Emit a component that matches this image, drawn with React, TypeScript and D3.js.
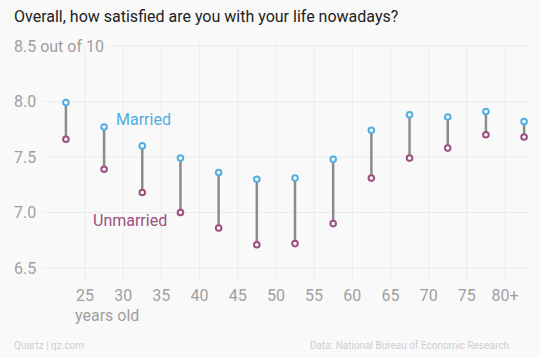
import React from "react";
import * as d3 from "d3";

const ages = [22.5, 27.5, 32.5, 37.5, 42.5, 47.5, 52.5, 57.5, 62.5, 67.5, 72.5, 77.5, 82.5];
const married = [7.99, 7.77, 7.6, 7.49, 7.36, 7.3, 7.31, 7.48, 7.74, 7.88, 7.86, 7.91, 7.82];
const unmarried = [7.66, 7.39, 7.18, 7.0, 6.86, 6.71, 6.72, 6.9, 7.31, 7.49, 7.58, 7.7, 7.68];
const xTicks = [25, 30, 35, 40, 45, 50, 55, 60, 65, 70, 75, 80];
const yTicks = [6.5, 7.0, 7.5, 8.0, 8.5];

const W = 540, H = 358;
const BLUE = "#51aee0";
const PURPLE = "#9c4f80";
const FONT = "Roboto, 'Open Sans', sans-serif";

export default function App() {
  const x = d3.scaleLinear().domain([25, 80]).range([85, 505]);
  const y = d3.scaleLinear().domain([6.5, 8.5]).range([268, 46]);
  const data = ages.map((a, i) => ({ a, m: married[i], u: unmarried[i] }));
  return (
    <svg width={W} height={H} style={{ position: "absolute", left: 0, top: 0, display: "block" }} fontFamily={FONT}>
      <rect width={W} height={H} fill="#f9f9f9" />
      <text x={14} y={22} fontSize={16} fill="#222">Overall, how satisfied are you with your life nowadays?</text>
      {xTicks.map((t) => (
        <line key={"vg" + t} x1={x(t)} x2={x(t)} y1={44} y2={281} stroke="#ececec" strokeWidth={1} />
      ))}
      {yTicks.map((t) => (
        <line key={"hg" + t} x1={t === 8.5 ? 106 : 44} x2={528} y1={y(t)} y2={y(t)} stroke="#ececec" strokeWidth={1} />
      ))}
      {yTicks.map((t) => (
        <text key={"yl" + t} x={14} y={y(t)} dy="0.35em" fontSize={16} fill="#a0a0a0">
          {d3.format(".1f")(t) + (t === 8.5 ? " out of 10" : "")}
        </text>
      ))}
      {xTicks.map((t) => (
        <text key={"xl" + t} x={x(t)} y={295} dy="0.35em" fontSize={16} fill="#a0a0a0" textAnchor="middle">
          {t === 80 ? "80+" : String(t)}
        </text>
      ))}
      <text x={x(25) - 10} y={315} dy="0.35em" fontSize={16} fill="#a0a0a0">years old</text>
      {data.map((d) => (
        <line key={"c" + d.a} x1={x(d.a)} x2={x(d.a)} y1={y(d.m)} y2={y(d.u)} stroke="#8c8c8c" strokeWidth={2.5} />
      ))}
      {data.map((d) => (
        <g key={"p" + d.a}>
          <circle cx={x(d.a)} cy={y(d.m)} r={2.8} fill="#fff" stroke={BLUE} strokeWidth={2} />
          <circle cx={x(d.a)} cy={y(d.u)} r={2.8} fill="#fff" stroke={PURPLE} strokeWidth={2} />
        </g>
      ))}
      <text x={116} y={119} dy="0.35em" fontSize={16} fill={BLUE}>Married</text>
      <text x={93} y={220} dy="0.35em" fontSize={16} fill={PURPLE}>Unmarried</text>
      <text x={14} y={349} fontSize={10} fill="#cfcfcf">Quartz | qz.com</text>
      <text x={509} y={349} fontSize={10} fill="#cfcfcf" textAnchor="end">Data: National Bureau of Economic Research</text>
    </svg>
  );
}
